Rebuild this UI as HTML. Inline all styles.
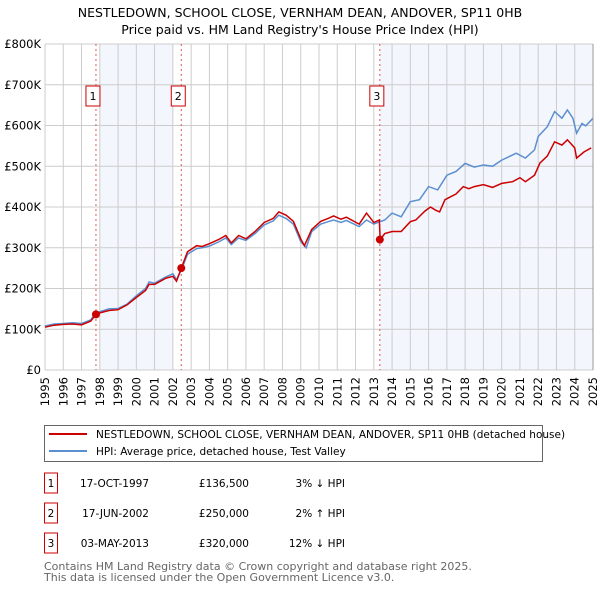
<!DOCTYPE html>
<html><head><meta charset="utf-8"><style>
body{margin:0;background:#fff;font-family:"Liberation Sans","DejaVu Sans",sans-serif;}
svg text{font-family:"DejaVu Sans","Liberation Sans",sans-serif;}
</style></head><body>
<svg id="chart" width="600" height="590" viewBox="0 0 600 590" xmlns="http://www.w3.org/2000/svg">
<text x="300" y="17" text-anchor="middle" font-size="12.5" fill="#000">NESTLEDOWN, SCHOOL CLOSE, VERNHAM DEAN, ANDOVER, SP11 0HB</text>
<text x="300" y="34" text-anchor="middle" font-size="12.5" fill="#000">Price paid vs. HM Land Registry's House Price Index (HPI)</text>
<g id="plot"></g>
<g>
<rect x="44.5" y="425.5" width="498" height="36" fill="#fff" stroke="#666"/>
<line x1="49" y1="434" x2="87" y2="434" stroke="#cc0000" stroke-width="2"/>
<text x="96" y="438" font-size="10.5">NESTLEDOWN, SCHOOL CLOSE, VERNHAM DEAN, ANDOVER, SP11 0HB (detached house)</text>
<line x1="49" y1="451" x2="87" y2="451" stroke="#5b8fd0" stroke-width="2"/>
<text x="96" y="455" font-size="10.5">HPI: Average price, detached house, Test Valley</text>
</g>
<g id="table"></g>
<text x="44" y="570" font-size="11" fill="#666">Contains HM Land Registry data © Crown copyright and database right 2025.</text>
<text x="44" y="581" font-size="11" fill="#666">This data is licensed under the Open Government Licence v3.0.</text>
</svg>
<script>
const yTicks=[0,100,200,300,400,500,600,700,800];
const yTickLabels=["£0","£100K","£200K","£300K","£400K","£500K","£600K","£700K","£800K"];
const years=[1995,1996,1997,1998,1999,2000,2001,2002,2003,2004,2005,2006,2007,2008,2009,2010,2011,2012,2013,2014,2015,2016,2017,2018,2019,2020,2021,2022,2023,2024,2025];
const saleDates=[1997.79,2002.46,2013.33];
const salePrices=[136.5,250,320];
const saleLabels=["1","2","3"];
const saleDateText=["17-OCT-1997","17-JUN-2002","03-MAY-2013"];
const salePriceText=["£136,500","£250,000","£320,000"];
const saleHpiText=["3% ↓ HPI","2% ↑ HPI","12% ↓ HPI"];
const shadeRanges=[[1998,2002],[2013.33,2025]];
const redDates=[1995,1995.5,1996,1996.5,1997,1997.5,1997.79,1998,1998.5,1999,1999.5,2000,2000.5,2000.7,2001,2001.6,2002,2002.2,2002.46,2002.8,2003.3,2003.6,2004,2004.5,2004.9,2005.2,2005.6,2006,2006.5,2007,2007.5,2007.8,2008.2,2008.6,2009.0,2009.2,2009.6,2010.1,2010.5,2010.8,2011.2,2011.5,2012.2,2012.6,2013.0,2013.3,2013.35,2013.6,2014.0,2014.5,2015.0,2015.3,2015.8,2016.1,2016.4,2016.6,2016.9,2017.2,2017.5,2017.9,2018.2,2018.5,2019.0,2019.5,2020.0,2020.6,2021.0,2021.3,2021.8,2022.1,2022.5,2022.9,2023.3,2023.6,2024.0,2024.1,2024.5,2024.9];
const redValues=[105,110,112,113,111,120,136.5,140,146,148,160,178,195,210,210,225,230,218,250,290,305,303,310,320,330,312,330,322,340,362,372,388,380,365,322,305,345,365,372,378,370,375,358,385,362,368,320,335,340,340,364,368,390,400,392,388,418,425,432,450,445,450,455,448,458,462,472,462,478,508,525,560,552,565,545,520,535,545];
const blueDates=[1995,1995.5,1996,1996.5,1997,1997.5,1997.79,1998,1998.5,1999,1999.5,2000,2000.5,2000.7,2001,2001.6,2002,2002.2,2002.46,2002.8,2003.3,2003.6,2004,2004.5,2004.9,2005.2,2005.6,2006,2006.5,2007,2007.5,2007.8,2008.2,2008.6,2009.0,2009.3,2009.6,2010.1,2010.5,2010.8,2011.2,2011.5,2012.2,2012.6,2013.0,2013.33,2013.6,2014.0,2014.5,2015.0,2015.5,2016.0,2016.5,2017.0,2017.5,2018.0,2018.5,2019.0,2019.5,2020.0,2020.8,2021.3,2021.8,2022.0,2022.5,2022.9,2023.3,2023.6,2023.9,2024.1,2024.4,2024.6,2025.0];
const blueValues=[108,113,114,116,114,123,141,143,150,151,162,182,200,216,213,228,236,222,245,284,298,300,304,314,324,308,324,318,335,356,366,380,372,358,315,300,340,358,364,368,362,367,352,368,358,364,368,385,376,413,418,450,442,478,487,507,498,503,500,515,532,520,540,573,597,634,618,638,618,581,605,599,618];

const NS="http://www.w3.org/2000/svg";
const L=45,R=593,T=44,B=370,Y0=1995,Y1=2025,VMAX=800;
const xs=y=>L+(y-Y0)/(Y1-Y0)*(R-L);
const ys=v=>B-v/VMAX*(B-T);
const plot=document.getElementById('plot');
function mk(tag,attrs,parent){const e=document.createElementNS(NS,tag);for(const k in attrs)e.setAttribute(k,attrs[k]);(parent||plot).appendChild(e);return e;}
mk('rect',{x:L,y:T,width:R-L,height:B-T,fill:'#fff'});
shadeRanges.forEach(r=>{const e=mk('rect',{x:xs(r[0]),y:T,width:xs(r[1])-xs(r[0]),height:B-T,fill:'#f3f6fd'});

});
years.forEach(y=>{mk('line',{x1:xs(y),x2:xs(y),y1:T,y2:B,stroke:'#cccccc','stroke-width':1});
const t=mk('text',{x:0,y:0,'font-size':11.5,'text-anchor':'end',transform:`translate(${xs(y)+4},${B+7}) rotate(-90)`});
t.textContent=y;

});
yTicks.forEach((v,i)=>{mk('line',{x1:L,x2:R,y1:ys(v),y2:ys(v),stroke:'#cccccc','stroke-width':1});
const t=mk('text',{x:L-4,y:ys(v)+4,'font-size':11.5,'text-anchor':'end'});
t.textContent=yTickLabels[i];

});
saleDates.forEach((d,i)=>{const l=mk('line',{x1:xs(d),x2:xs(d),y1:T,y2:B,stroke:'#e05555','stroke-width':1,'stroke-dasharray':'2,3'});


const bx=xs(d)-10;
const g=mk('g',{});


mk('rect',{x:bx,y:86,width:14,height:20,fill:'#fff',stroke:'#cc0000','stroke-width':1},g);
const t=mk('text',{x:bx+7,y:100,'font-size':11,'text-anchor':'middle'},g);t.textContent=saleLabels[i];});
function pts(ds,vs){return ds.map((d,i)=>xs(d).toFixed(1)+','+ys(vs[i]).toFixed(1)).join(' ');}
const bl=mk('polyline',{points:pts(blueDates,blueValues),fill:'none',stroke:'#5b8fd0','stroke-width':1.5});


const rl=mk('polyline',{points:pts(redDates,redValues),fill:'none',stroke:'#cc0000','stroke-width':1.5});


saleDates.forEach((d,i)=>{const c=mk('circle',{cx:xs(d),cy:ys(salePrices[i]),r:4,fill:'#cc0000'});

});
mk('line',{x1:R,x2:R,y1:T,y2:B,stroke:'#999'});
const tb=document.getElementById('table');
saleLabels.forEach((s,i)=>{const cy=483+i*30;
const g=mk('g',{},tb);


mk('rect',{x:44.5,y:cy-10,width:13,height:20,fill:'#fff',stroke:'#cc0000'},g);
const a=mk('text',{x:51,y:cy+4,'font-size':10.5,'text-anchor':'middle'},g);a.textContent=s;
const b=mk('text',{x:149,y:cy+4,'font-size':10.5,'text-anchor':'end'},g);b.textContent=saleDateText[i];
const c=mk('text',{x:249,y:cy+4,'font-size':10.5,'text-anchor':'end'},g);c.textContent=salePriceText[i];
const d=mk('text',{x:345,y:cy+4,'font-size':10.5,'text-anchor':'end'},g);d.textContent=saleHpiText[i];});
</script>
</body></html>
